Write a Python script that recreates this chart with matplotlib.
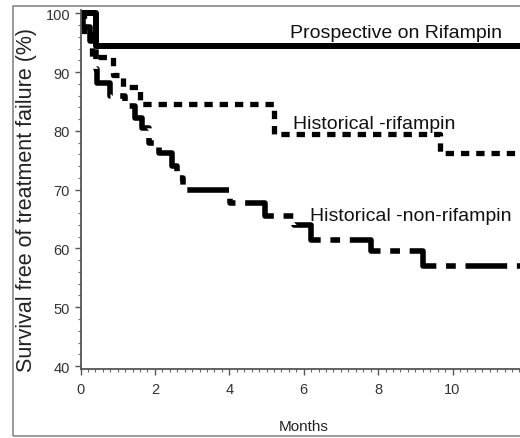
import matplotlib
matplotlib.use("Agg")
import matplotlib.pyplot as plt
from matplotlib.patches import Rectangle
from matplotlib.ticker import MultipleLocator, FixedLocator

plt.rcParams["lines.scale_dashes"] = False

# Kaplan-Meier style step data (months, % free of treatment failure)
prosp_t = [0.0, 0.42, 12.5]
prosp_s = [100.0, 94.4, 94.4]

hist_rif_t = [0.0, 0.1, 0.3, 0.87, 1.14, 1.6, 5.2, 9.66, 12.5]
hist_rif_s = [100.0, 96.5, 92.5, 89.5, 87.4, 84.6, 79.4, 76.3, 76.3]

hist_non_t = [0.0, 0.08, 0.25, 0.42, 0.45, 0.8, 1.2, 1.47, 1.65, 1.85, 2.1,
              2.45, 2.6, 2.75, 4.02, 4.95, 5.75, 6.2, 7.8, 9.2, 12.5]
hist_non_s = [100.0, 97.6, 95.2, 90.5, 88.1, 86.0, 84.2, 82.2, 80.4, 78.0, 76.2,
              74.0, 72.0, 69.9, 67.7, 65.6, 64.0, 61.4, 59.6, 57.1, 57.1]

labels = ["Prospective on Rifampin", "Historical -rifampin", "Historical -non-rifampin"]
label_pos = [(5.63, 95.9), (5.71, 80.4), (6.17, 64.8)]
month_ticks = [0, 2, 4, 6, 8, 10]

W, H = 520, 439
fig = plt.figure(figsize=(W / 100, H / 100), dpi=100)
ax = fig.add_axes([80.5 / W, 69 / H, 465 / W, 358.7 / H])

ax.step(hist_non_t, hist_non_s, where="post", color="black", lw=4,
        dashes=(30, 7, 7, 7))
ax.step(hist_rif_t, hist_rif_s, where="post", color="black", lw=3.8,
        dashes=(6, 5))
ax.step(prosp_t, prosp_s, where="post", color="black", lw=4.3)

for txt, (x, y) in zip(labels, label_pos):
    ax.text(x, y, txt, fontsize=14, family="Liberation Sans", va="baseline",
            ha="left", color="#111111")

ax.set_xlim(0, 12.5)
ax.set_ylim(39.5, 100.5)
ax.xaxis.set_major_locator(FixedLocator(month_ticks))
ax.xaxis.set_minor_locator(MultipleLocator(0.2))
ax.yaxis.set_major_locator(MultipleLocator(10))
ax.yaxis.set_minor_locator(MultipleLocator(2))

for s in ["top", "right"]:
    ax.spines[s].set_visible(False)
for s in ["left", "bottom"]:
    ax.spines[s].set_color("#555555")
    ax.spines[s].set_linewidth(1.3)

ax.tick_params(which="major", length=4.5, width=1, color="#555555", pad=3,
               labelsize=10.5, labelcolor="#333333")
ax.tick_params(which="minor", length=2.5, width=0.8, color="#666666")
ax.tick_params(axis="x", which="major", pad=5)
for lab in ax.get_xticklabels() + ax.get_yticklabels():
    lab.set_family("Liberation Sans")

ax.set_xlabel("Months", fontsize=11, family="Liberation Sans", color="#222222")
ax.xaxis.set_label_coords(6 / 12.5, -0.139)
ax.set_ylabel("Survival free of treatment failure (%)", fontsize=15.5,
              family="Liberation Sans", color="#222222")
ax.yaxis.set_label_coords(-0.094, 0.475)

# outer frame of the original figure panel
fig.patches.append(Rectangle((13 / W, 2 / H), 1.2, 430 / H, transform=fig.transFigure,
                             fill=False, edgecolor="#888888", lw=1.2))

fig.savefig("out.png", dpi=100)
